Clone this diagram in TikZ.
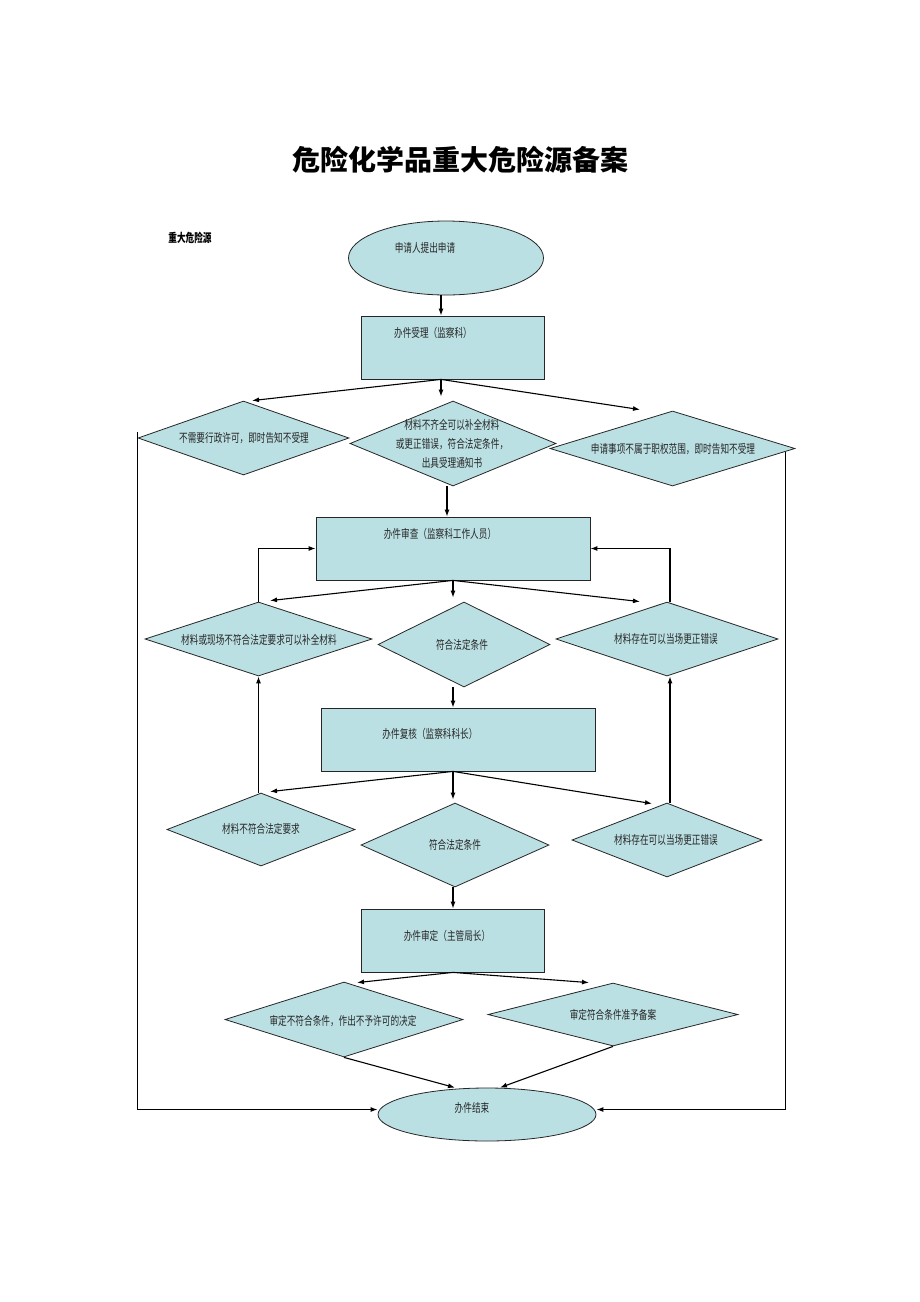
\documentclass[tikz,border=0pt]{standalone}
\usepackage{fontspec}
\usetikzlibrary{shapes.geometric,arrows.meta}
\newfontfamily\cjk[FakeStretch=0.72]{Noto Sans CJK SC}
\newfontfamily\cjktitle{Noto Sans CJK SC}
\definecolor{boxfill}{HTML}{BBE0E3}
\definecolor{txt}{HTML}{262626}
\tikzset{
  shp/.style={draw=black!85, line width=0.8pt, fill=boxfill, inner sep=0pt},
  dia/.style={shp, diamond, minimum width=#1},
  rct/.style={shp, rectangle},
  ell/.style={shp, ellipse},
  lbl/.style={font=\cjk\fontsize{12}{13}\selectfont, text=txt, inner sep=0pt},
  arr/.style={line width=1.1pt, -{Latex[length=7pt,width=5pt]}},
}
\begin{document}
\begin{tikzpicture}[x=1pt,y=-1pt]
\path[use as bounding box, fill=white] (0,0) rectangle (920,1302);

% title
\node[font=\cjktitle\bfseries\fontsize{28}{30}\selectfont, inner sep=0pt] (title) at (460,160) {危险化学品重大危险源备案};
\node[font=\cjk\bfseries\fontsize{12}{13}\selectfont, inner sep=0pt] (sub) at (190,238) {重大危险源};

% shapes
\node[ell, minimum width=195pt, minimum height=74pt] (e1) at (446,258) {};
\node[rct, minimum width=183pt, minimum height=63pt] (r1) at (452.5,347.5) {};
\node[dia=211pt, minimum height=74pt] (d1) at (243.5,438) {};
\node[dia=206pt, minimum height=85pt] (d2) at (453,443.5) {};
\node[dia=245pt, minimum height=75pt] (d3) at (672.5,448.5) {};
\node[rct, minimum width=274pt, minimum height=63pt] (r2) at (453,548.5) {};
\node[dia=227pt, minimum height=74pt] (d4) at (258.5,639) {};
\node[dia=172pt, minimum height=85pt] (d5) at (464,644.5) {};
\node[dia=222pt, minimum height=74pt] (d6) at (667,639) {};
\node[rct, minimum width=274pt, minimum height=63pt] (r3) at (458,739.5) {};
\node[dia=188pt, minimum height=73pt] (d7) at (261,829.5) {};
\node[dia=188pt, minimum height=84pt] (d8) at (455,845) {};
\node[dia=190pt, minimum height=74pt] (d9) at (667,840) {};
\node[rct, minimum width=183pt, minimum height=63pt] (r4) at (453,940.5) {};
\node[dia=238pt, minimum height=75pt] (d10) at (344,1019.5) {};
\node[dia=250pt, minimum height=63pt] (d11) at (613,1014.5) {};
\node[ell, minimum width=218pt, minimum height=53pt] (e2) at (487,1114.5) {};

% texts
\node[lbl] (te1) at (425,248) {申请人提出申请};
\node[lbl] (tr1) at (433,333) {办件受理（监察科）};
\node[lbl] (td1) at (244,438) {不需要行政许可，即时告知不受理};
\node[lbl, align=center, font=\cjk\fontsize{12}{19}\selectfont] (td2) at (452,444) {材料不齐全可以补全材料\\或更正错误，符合法定条件，\\出具受理通知书};
\node[lbl] (td3) at (673,449) {申请事项不属于职权范围，即时告知不受理};
\node[lbl] (tr2) at (440,534) {办件审查（监察科工作人员）};
\node[lbl] (td4) at (259,640) {材料或现场不符合法定要求可以补全材料};
\node[lbl] (td5) at (462,645) {符合法定条件};
\node[lbl] (td6) at (666,639) {材料存在可以当场更正错误};
\node[lbl] (tr3) at (430,734) {办件复核（监察科科长）};
\node[lbl] (td7) at (261,829) {材料不符合法定要求};
\node[lbl] (td8) at (455,845) {符合法定条件};
\node[lbl] (td9) at (666,840) {材料存在可以当场更正错误};
\node[lbl] (tr4) at (447,936) {办件审定（主管局长）};
\node[lbl] (td10) at (343,1021) {审定不符合条件，作出不予许可的决定};
\node[lbl] (td11) at (613,1015) {审定符合条件准予备案};
\node[lbl] (te2) at (472,1108) {办件结束};

% connectors
\draw[arr] ([xshift=-5pt]e1.south) -- ([xshift=-11.5pt]r1.north);
\draw[arr] ([xshift=-11.5pt]r1.south) -- ([xshift=8.5pt]d1.north);
\draw[arr] ([xshift=-11.5pt]r1.south) -- ([xshift=-12pt,yshift=4pt]d2.north);
\draw[arr] ([xshift=-11.5pt]r1.south) -- ([xshift=-32.5pt,yshift=1pt]d3.north);
\draw[arr] ([xshift=-6pt]d2.south) -- ([xshift=-6pt]r2.north);

\draw[arr] (r2.south) -- ([xshift=11.5pt,yshift=1pt]d4.north);
\draw[arr] (r2.south) -- ([xshift=-11pt,yshift=4pt]d5.north);
\draw[arr] (r2.south) -- ([xshift=-27pt]d6.north);
\draw[arr] (d4.north) |- (r2.west);
\draw[arr] ([xshift=3pt]d6.north) |- (r2.east);

\draw[arr] ([xshift=-11pt]d5.south) -- ([xshift=-5pt]r3.north);
\draw[arr] ([xshift=-5pt]r3.south) -- ([xshift=9pt,yshift=1pt]d7.north);
\draw[arr] ([xshift=-5pt]r3.south) -- ([xshift=-2pt,yshift=3pt]d8.north);
\draw[arr] ([xshift=-5pt]r3.south) -- ([xshift=-15pt,yshift=-1pt]d9.north);
\draw[arr] (d4.south |- d7.north) -- (d4.south);
\draw[arr] ([xshift=3pt]d9.north) -- ([xshift=3pt]d6.south);

\draw[arr] ([xshift=-2pt]d8.south) -- (r4.north);
\draw[arr] (r4.south) -- ([xshift=13pt,yshift=-1pt]d10.north);
\draw[arr] (r4.south) -- ([xshift=-24pt]d11.north);
\draw[arr] (d10.south) -- ([xshift=-32pt]e2.north);
\draw[arr] (d11.south) -- ([xshift=13pt]e2.north);

\draw[arr] ([yshift=6pt]d1.west) |- ([yshift=5pt]e2.west);
\draw[arr] ([xshift=-10pt,yshift=-3pt]d3.east) |- ([yshift=5pt]e2.east);
\end{tikzpicture}
\end{document}
